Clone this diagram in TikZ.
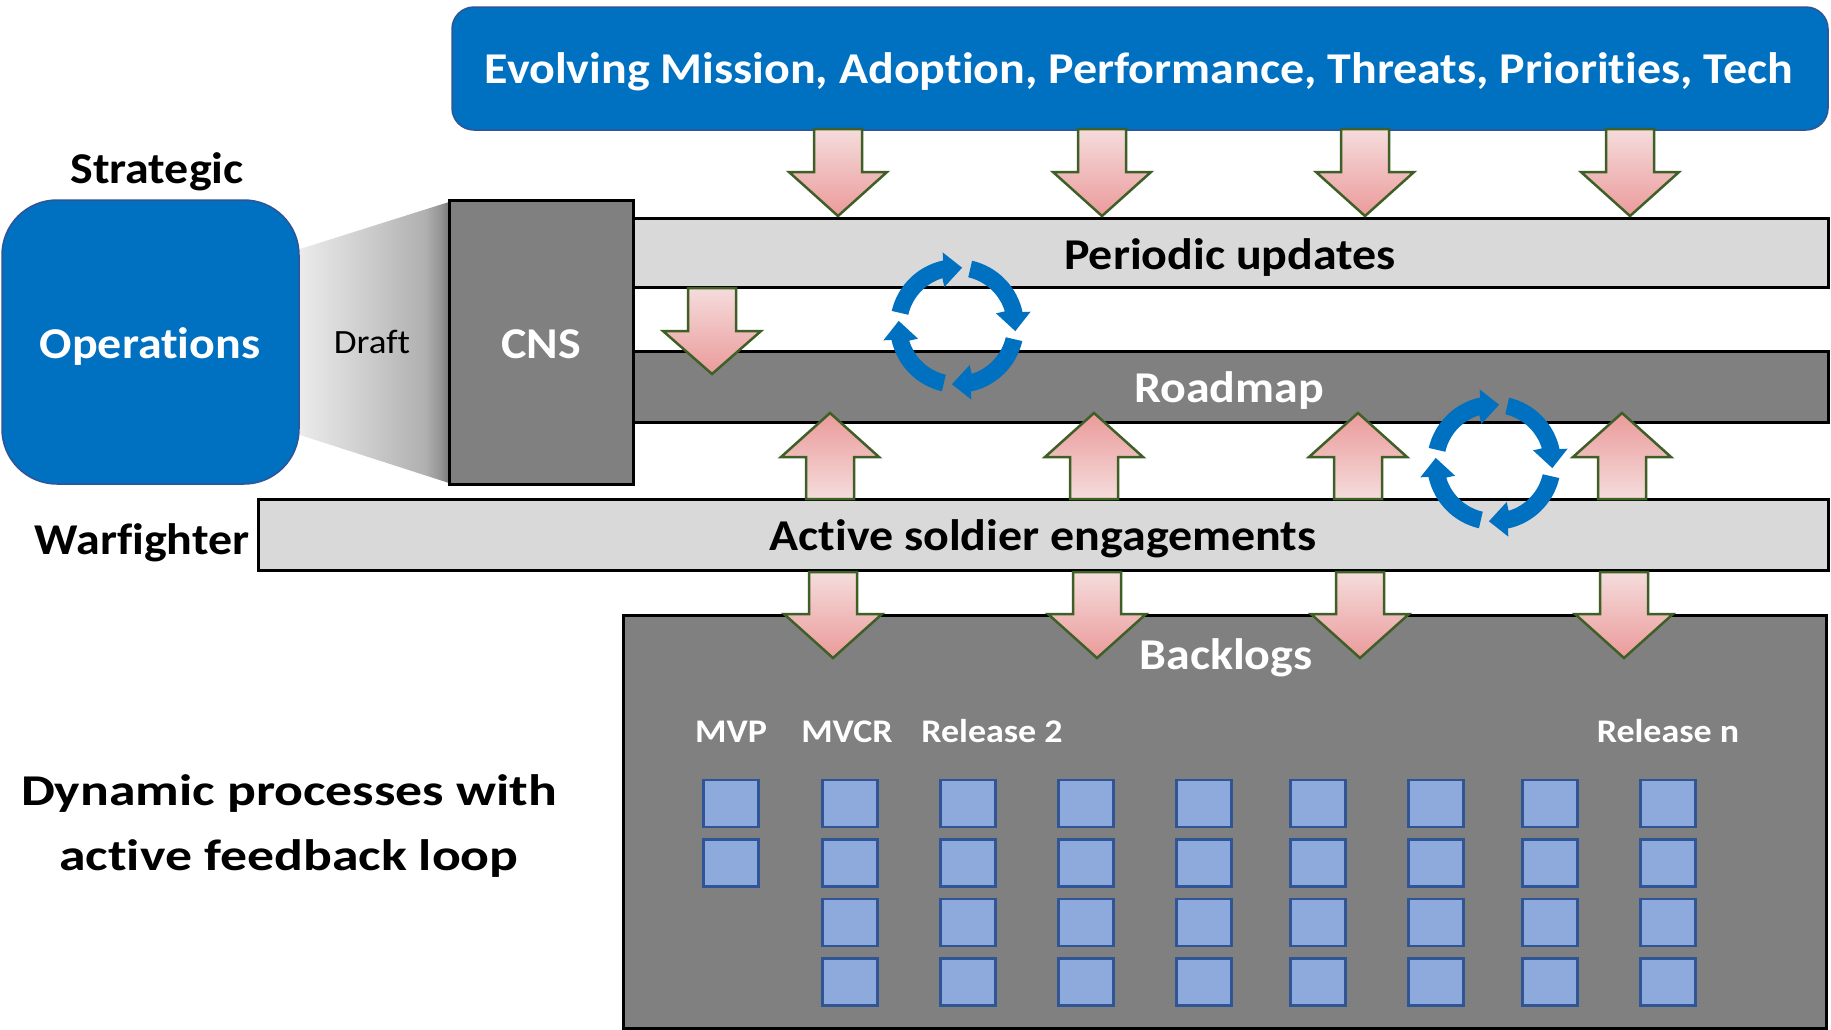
\documentclass[tikz,border=0pt]{standalone}
\usepackage{fontspec}
\setmainfont{Carlito}[FakeStretch=1.09, Ligatures=NoCommon]
\definecolor{mblue}{HTML}{0070C0}
\definecolor{mblueb}{HTML}{2F5597}
\definecolor{grayL}{HTML}{D9D9D9}
\definecolor{grayD}{HTML}{808080}
\definecolor{sqfill}{HTML}{8EA9DB}
\definecolor{sqdraw}{HTML}{2F5597}
\definecolor{pinkL}{HTML}{F5DCDC}
\definecolor{pinkD}{HTML}{EB9A9A}
\definecolor{agreen}{HTML}{3E5F26}
\definecolor{trA}{HTML}{EBEBEB}
\definecolor{trB}{HTML}{C9C9C9}
\definecolor{trC}{HTML}{B0B0B0}
\definecolor{trD}{HTML}{959595}
\definecolor{trE}{HTML}{7A7A7A}
\pgfdeclarehorizontalshading{trapshade}{100bp}{color(0bp)=(trA); color(25bp)=(trA); color(50bp)=(trB); color(67bp)=(trC); color(72bp)=(trD); color(75bp)=(trE); color(100bp)=(trE)}
\begin{document}
\begin{tikzpicture}[x=1pt,y=-1pt,
  big/.style={font=\bfseries\fontsize{44}{52}\selectfont, inner sep=0, anchor=base},
  small/.style={font=\bfseries\fontsize{33}{40}\selectfont, inner sep=0, anchor=base, text=white},
  bar/.style={draw=black, line width=3, inner sep=0},
  sq/.style={draw=sqdraw, fill=sqfill, line width=2.5, minimum width=55, minimum height=47, inner sep=0},
  dnarrow/.style={draw=agreen, line width=2.5, top color=pinkL, bottom color=pinkD, line join=miter},
  uparrow/.style={draw=agreen, line width=2.5, top color=pinkD, bottom color=pinkL, line join=miter},
  cyc/.style={fill=mblue, draw=none}
]
\useasboundingbox (0,0) rectangle (1831,1029);
\fill[white] (0,0) rectangle (1831,1029);

% top box
\node[draw=mblueb, fill=mblue, line width=1.5, rounded corners=22, minimum width=1376, minimum height=123, inner sep=0] (top) at (1140,68.5) {};
\node[big, text=white] (toptxt) at (1139,83) {Evolving Mission, Adoption, Performance, Threats, Priorities, Tech};

% trapezoid
\path[shading=trapshade] (300,249) -- (449,202) -- (449,483) -- (300,435) -- cycle;

% operations
\node[draw=mblueb, fill=mblue, line width=1.5, rounded corners=55, minimum width=297, minimum height=284, inner sep=0] (ops) at (150.5,342) {};
\node[big, text=white] (opstxt) at (150,358) {Operations};
\node[big] (strat) at (157,183) {Strategic};
\node[font=\fontsize{34}{40}\selectfont, inner sep=0, anchor=base] (draft) at (372,353) {Draft};

% CNS
\node[bar, fill=grayD, minimum width=184, minimum height=284] (cns) at (541,342) {};
\node[big, text=white] (cnstxt) at (541,358) {CNS};

% bars
\node[bar, fill=grayL, minimum width=1195, minimum height=69] (pu) at (1230.5,252.5) {};
\node[big] (putxt) at (1230,269) {Periodic updates};
\node[bar, fill=grayD, minimum width=1195, minimum height=71] (rm) at (1230.5,386.5) {};
\node[big, text=white] (rmtxt) at (1229,402) {Roadmap};
\node[bar, fill=grayL, minimum width=1570, minimum height=71] (ase) at (1043,534.5) {};
\node[big] (asetxt) at (1043,550) {Active soldier engagements};
\node[big] (warf) at (142,554) {Warfighter};

% backlogs
\node[bar, fill=grayD, minimum width=1203, minimum height=413] (bl) at (1224.5,821.5) {};
\node[big, text=white] (bltxt) at (1226,669) {Backlogs};
\node[small] (mvp) at (731,742) {MVP};
\node[small] (mvcr) at (847,742) {MVCR};
\node[small] (rel2) at (992,742) {Release 2};
\node[small] (reln) at (1668,742) {Release n};

\foreach \cx [count=\i] in {731,850,968,1086,1204,1318,1436,1550,1668}{
  \foreach \j in {0,1,2,3}{
    \ifnum\i=1 \ifnum\j>1 \else
      \node[sq] (sq-\i-\j) at (\cx,803.5+59.5*\j) {};
    \fi\else
      \node[sq] (sq-\i-\j) at (\cx,803.5+59.5*\j) {};
    \fi
  }
}

\node[big] (dyn1) at (289,805) {\scalebox{1.12}[1]{Dynamic processes with}};
\node[big] (dyn2) at (289,870) {\scalebox{1.12}[1]{active feedback loop}};

% arrows
\foreach \cx in {838,1102,1365,1630}{
  \path[dnarrow] (\cx-24,129) -- (\cx+24,129) -- (\cx+24,172) -- (\cx+49,172) -- (\cx,216) -- (\cx-49,172) -- (\cx-24,172) -- cycle;
}
\path[dnarrow] (712-24,288) -- (712+24,288) -- (712+24,331) -- (712+49,331) -- (712,374) -- (712-49,331) -- (712-24,331) -- cycle;
\foreach \cx in {830,1094,1358,1622}{
  \path[uparrow] (\cx-24,499) -- (\cx+24,499) -- (\cx+24,457) -- (\cx+49,457) -- (\cx,413) -- (\cx-49,457) -- (\cx-24,457) -- cycle;
}
\foreach \cx in {833,1097,1360,1624}{
  \path[dnarrow] (\cx-24,572) -- (\cx+24,572) -- (\cx+24,614) -- (\cx+49,614) -- (\cx,658) -- (\cx-49,614) -- (\cx-24,614) -- cycle;
}

% cycle icons
\foreach \ccx/\ccy in {957/326,1494/463}{
  \begin{scope}[shift={(\ccx,\ccy)}, yscale=-1]
    \foreach \k in {0,1,2,3}{
      \fill[cyc, rotate=-90*\k] (167:67) arc[start angle=167, end angle=102, radius=67] -- (101:75) -- (85:58.5) -- (108:41) -- (107:50) arc[start angle=107, end angle=167, radius=50] -- cycle;
    }
  \end{scope}
}
\end{tikzpicture}
\end{document}
